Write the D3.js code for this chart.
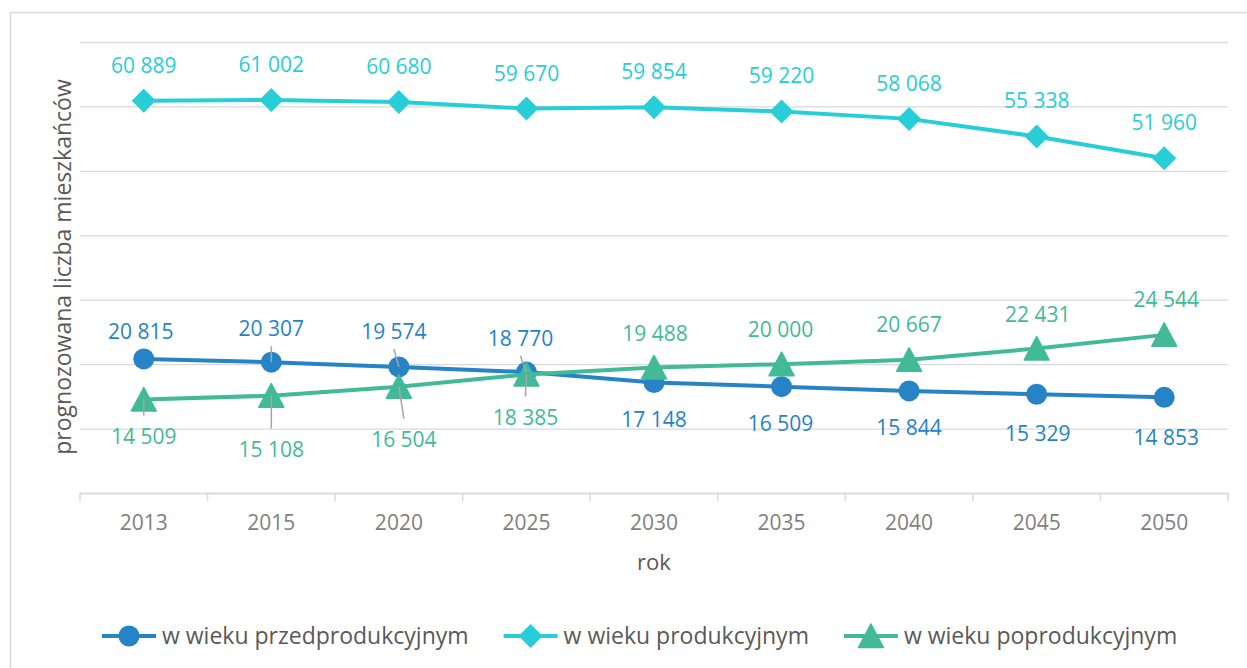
<!DOCTYPE html>
<html>
<head>
<meta charset="utf-8">
<script src="https://cdn.jsdelivr.net/npm/d3@7"></script>
<style>
  body { margin: 0; background: #fff; }
  text { font-family: "Open Sans", "Noto Sans", sans-serif; }
</style>
</head>
<body>
<div id="chart"></div>
<script>
// data
var years = ["2013", "2015", "2020", "2025", "2030", "2035", "2040", "2045", "2050"];
var przedprodukcyjny = [20815, 20307, 19574, 18770, 17148, 16509, 15844, 15329, 14853];
var produkcyjny = [60889, 61002, 60680, 59670, 59854, 59220, 58068, 55338, 51960];
var poprodukcyjny = [14509, 15108, 16504, 18385, 19488, 20000, 20667, 22431, 24544];
var seriesNames = ["w wieku przedprodukcyjnym", "w wieku produkcyjnym", "w wieku poprodukcyjnym"];
var yTicks = [0, 10000, 20000, 30000, 40000, 50000, 60000, 70000];

// label placement (offset of label baseline from marker), leader line flags
var labelPos = [
  [[-3,-20],[0,-26],[-5,-28],[-6,-26],[0,44],[-1,44],[0,44],[1,47],[2,48]],
  [[0,-28],[0,-28],[0,-28],[0,-28],[0,-28],[0,-28],[0,-28],[0,-28],[0,-28]],
  [[0,44],[0,61],[5,60],[-1,50],[1,-26],[-1,-27],[0,-28],[1,-26],[2,-28]]
];
var leaders = [
  [0,1,1,1,0,0,0,0,0],
  [0,0,0,0,0,0,0,0,0],
  [1,1,1,1,0,0,0,0,0]
];

var colors = ["#2683C6", "#27CED7", "#42BA97"];
var shapes = ["circle", "diamond", "triangle"];

var width = 1247, height = 668;
var plotLeft = 80, plotRight = 1228, plotTop = 42, plotBottom = 493;

var svg = d3.select("#chart").append("svg")
  .attr("width", width)
  .attr("height", height);

// outer frame
svg.append("rect")
  .attr("x", 10.5).attr("y", 12.5)
  .attr("width", 1260).attr("height", 700)
  .attr("fill", "none")
  .attr("stroke", "#D9D9D9")
  .attr("stroke-width", 1.5);

var x = d3.scaleBand().domain(years).range([plotLeft, plotRight]).padding(0);
var y = d3.scaleLinear().domain([0, 70000]).range([plotBottom, plotTop]);

var fmt = d3.formatLocale({decimal: ",", thousands: " ", grouping: [3], currency: ["", ""]}).format(",d");

function cx(d, i) { return x(years[i]) + x.bandwidth() / 2; }

// gridlines
svg.append("g")
  .attr("transform", "translate(" + plotLeft + ",0)")
  .call(d3.axisLeft(y).tickValues(yTicks).tickSize(-(plotRight - plotLeft)).tickFormat(""))
  .call(function(g){
    g.select(".domain").remove();
    g.selectAll("line").attr("stroke", "#D9D9D9").attr("stroke-width", 1.3);
  });

// x axis
var xAxis = svg.append("g")
  .attr("transform", "translate(0," + plotBottom + ")")
  .call(d3.axisBottom(x).tickSize(0).tickPadding(22));
xAxis.select(".domain").attr("stroke", "#D9D9D9").attr("stroke-width", 1.5);
xAxis.selectAll("text")
  .attr("fill", "#7F7F7F")
  .style("font-size", "21px")
  .style("font-family", "'Open Sans', sans-serif");

// boundary ticks
var bounds = years.map(function(c){ return x(c); }).concat([plotRight]);
svg.append("g").selectAll("line")
  .data(bounds).enter().append("line")
  .attr("x1", function(d){ return d; })
  .attr("x2", function(d){ return d; })
  .attr("y1", plotBottom)
  .attr("y2", plotBottom + 8)
  .attr("stroke", "#D9D9D9")
  .attr("stroke-width", 1.5);

// axis titles
svg.append("text")
  .attr("x", (plotLeft + plotRight) / 2)
  .attr("y", 570)
  .attr("text-anchor", "middle")
  .attr("fill", "#595959")
  .style("font-size", "22px")
  .text("rok");

svg.append("text")
  .attr("transform", "translate(71,267) rotate(-90)")
  .attr("text-anchor", "middle")
  .attr("fill", "#595959")
  .style("font-size", "23px")
  .text("prognozowana liczba mieszkańców");

function drawMarker(g, shape, color) {
  if (shape == "circle") {
    g.append("circle").attr("r", 10.5).attr("fill", color);
  } else if (shape == "diamond") {
    g.append("path").attr("d", "M0,-12L12,0L0,12L-12,0Z").attr("fill", color);
  } else {
    g.append("path").attr("d", "M0,-12L12.5,11.5L-12.5,11.5Z")
      .attr("fill", color).attr("stroke", color).attr("stroke-width", 1.5).attr("stroke-linejoin", "round");
  }
}

var allSeries = [przedprodukcyjny, produkcyjny, poprodukcyjny];

var line = d3.line()
  .x(function(d, i){ return cx(d, i); })
  .y(function(d){ return y(d); });

allSeries.forEach(function(vals, s){
  var g = svg.append("g");
  g.append("path")
    .datum(vals)
    .attr("d", line)
    .attr("fill", "none")
    .attr("stroke", colors[s])
    .attr("stroke-width", 4)
    .attr("stroke-linejoin", "round");

  vals.forEach(function(v, i){
    var m = g.append("g").attr("transform", "translate(" + cx(v, i) + "," + y(v) + ")");
    drawMarker(m, shapes[s], colors[s]);
  });
});

// labels + leader lines
allSeries.forEach(function(vals, s){
  var g = svg.append("g");
  vals.forEach(function(v, i){
    var px = cx(v, i), py = y(v);
    var lx = px + labelPos[s][i][0], ly = py + labelPos[s][i][1];
    if (leaders[s][i]) {
      var above = labelPos[s][i][1] < 0;
      g.append("line")
        .attr("x1", lx).attr("y1", above ? ly + 10 : ly - 28)
        .attr("x2", px).attr("y2", py)
        .attr("stroke", "#A6A6A6")
        .attr("stroke-width", 1.5);
    }
    g.append("text")
      .attr("x", lx)
      .attr("y", ly)
      .attr("text-anchor", "middle")
      .attr("fill", colors[s])
      .style("font-size", "21px")
      .text(fmt(v));
  });
});

// legend
var legend = svg.append("g").attr("transform", "translate(0,636)");
var lx0 = 102;
seriesNames.forEach(function(name, s){
  var item = legend.append("g").attr("transform", "translate(" + lx0 + ",0)");
  item.append("line")
    .attr("x1", 0).attr("x2", 54)
    .attr("stroke", colors[s]).attr("stroke-width", 4);
  var m = item.append("g").attr("transform", "translate(27,0)");
  drawMarker(m, shapes[s], colors[s]);
  var t = item.append("text")
    .attr("x", 60)
    .attr("y", 8)
    .attr("fill", "#595959")
    .style("font-size", "23px")
    .text(name);
  lx0 += 60 + t.node().getComputedTextLength() + 35;
});
</script>
</body>
</html>
